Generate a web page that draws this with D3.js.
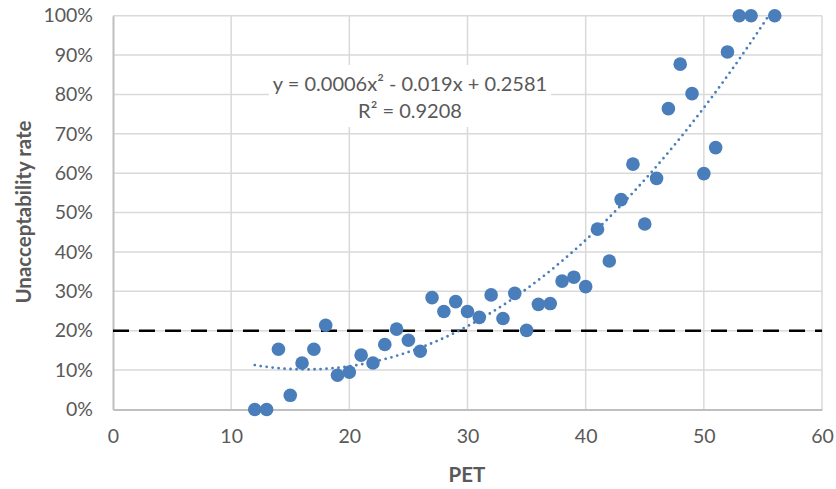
<!DOCTYPE html>
<html>
<head>
<meta charset="utf-8">
<script src="https://cdn.jsdelivr.net/npm/d3@7"></script>
<style>
  body { margin: 0; background: #fff; }
  svg { display: block; font-family: Lato, "Open Sans", sans-serif; }
</style>
</head>
<body>
<div id="chart-container"></div>
<script>
// PET values and unacceptability rate
var pet = [12, 13, 14, 15, 16, 17, 18, 19, 20, 21, 22, 23, 24, 25, 26, 27, 28, 29, 30,
  31, 32, 33, 34, 35, 36, 37, 38, 39, 40, 41, 42, 43, 44, 45, 46, 47, 48, 49, 50,
  51, 52, 53, 54, 56];
var rate = [0.0, 0.0, 0.153, 0.036, 0.118, 0.153, 0.214, 0.087, 0.095, 0.138, 0.118, 0.165,
  0.204, 0.176, 0.148, 0.284, 0.249, 0.274, 0.249, 0.234, 0.291, 0.231, 0.295, 0.201,
  0.267, 0.269, 0.326, 0.336, 0.312, 0.458, 0.377, 0.533, 0.623, 0.471, 0.587, 0.764,
  0.877, 0.802, 0.599, 0.665, 0.908, 1.0, 1.0, 1.0];
var xTicks = [0, 10, 20, 30, 40, 50, 60];
var yTicks = [0, 0.1, 0.2, 0.3, 0.4, 0.5, 0.6, 0.7, 0.8, 0.9, 1.0];
var threshold = 0.2;
var eqLines = ["y = 0.0006x\u00b2 - 0.019x + 0.2581", "R\u00b2 = 0.9208"];

var data = pet.map(function(p, i) { return { x: p, y: rate[i] }; });

var W = 836, H = 489;
var margin = { top: 15.7, right: 14, bottom: 79.5, left: 113 };
var width = W - margin.left - margin.right,
    height = H - margin.top - margin.bottom;

var svg = d3.select("#chart-container").append("svg")
  .attr("width", W).attr("height", H);

var g = svg.append("g")
  .attr("transform", "translate(" + margin.left + "," + margin.top + ")");

var xScale = d3.scaleLinear().domain([0, 60]).range([0, width]);
var yScale = d3.scaleLinear().domain([0, 1]).range([height, 0]);

// gridlines
g.append("g").selectAll("line").data(yTicks.slice(1)).join("line")
  .attr("x1", 0).attr("x2", width)
  .attr("y1", function(d) { return yScale(d); })
  .attr("y2", function(d) { return yScale(d); })
  .attr("stroke", "#d9d9d9").attr("stroke-width", 1.5);
g.append("g").selectAll("line").data(xTicks.slice(1)).join("line")
  .attr("y1", 0).attr("y2", height)
  .attr("x1", function(d) { return xScale(d); })
  .attr("x2", function(d) { return xScale(d); })
  .attr("stroke", "#d9d9d9").attr("stroke-width", 1.5);

// axes
var xAxis = g.append("g")
  .attr("transform", "translate(0," + height + ")")
  .call(d3.axisBottom(xScale).tickValues(xTicks).tickSize(0).tickPadding(20));
var yAxis = g.append("g")
  .call(d3.axisLeft(yScale).tickValues(yTicks).tickFormat(d3.format(".0%")).tickSize(0).tickPadding(20));
[xAxis, yAxis].forEach(function(a) {
  a.select(".domain").attr("stroke", "#bfbfbf").attr("stroke-width", 2);
  a.selectAll("text").attr("fill", "#595959").style("font-size", "19.5px")
    .style("font-family", "Lato, sans-serif");
});

// threshold line
g.append("line")
  .attr("x1", 0).attr("x2", width)
  .attr("y1", yScale(threshold)).attr("y2", yScale(threshold))
  .attr("stroke", "#000").attr("stroke-width", 2.5)
  .attr("stroke-dasharray", "16,10");

// quadratic least-squares trendline fitted from the data
function fitQuad(pts) {
  var s = [0, 0, 0, 0, 0], t = [0, 0, 0];
  pts.forEach(function(p) {
    var xp = 1;
    for (var k = 0; k < 5; k++) { s[k] += xp; if (k < 3) t[k] += xp * p.y; xp *= p.x; }
  });
  var A = [[s[0], s[1], s[2], t[0]], [s[1], s[2], s[3], t[1]], [s[2], s[3], s[4], t[2]]];
  for (var i = 0; i < 3; i++) {
    for (var j = i + 1; j < 3; j++) {
      var f = A[j][i] / A[i][i];
      for (var k = i; k < 4; k++) A[j][k] -= f * A[i][k];
    }
  }
  var c = [0, 0, 0];
  for (var i = 2; i >= 0; i--) {
    var v = A[i][3];
    for (var k = i + 1; k < 3; k++) v -= A[i][k] * c[k];
    c[i] = v / A[i][i];
  }
  return c; // c0 + c1 x + c2 x^2
}
var coef = fitQuad(data);
var xMin = d3.min(pet), xMax = d3.max(pet);
var trend = d3.range(xMin, xMax + 0.001, 0.25).map(function(x) {
  return { x: x, y: coef[0] + coef[1] * x + coef[2] * x * x };
});

svg.append("clipPath").attr("id", "plotclip")
  .append("rect").attr("x", 0).attr("y", -2).attr("width", width).attr("height", height + 4);

var line = d3.line()
  .x(function(d) { return xScale(d.x); })
  .y(function(d) { return yScale(d.y); });

g.append("path").datum(trend)
  .attr("clip-path", "url(#plotclip)")
  .attr("d", line)
  .attr("fill", "none")
  .attr("stroke", "#4a7ebb")
  .attr("stroke-width", 2.8)
  .attr("stroke-linecap", "round")
  .attr("stroke-dasharray", "0,6");

// points
g.append("g").selectAll("circle").data(data).join("circle")
  .attr("cx", function(d) { return xScale(d.x); })
  .attr("cy", function(d) { return yScale(d.y); })
  .attr("r", 6.8)
  .attr("fill", "#4a7ebb");

// equation label (white box hides the gridlines behind it)
g.append("rect")
  .attr("x", 269 - margin.left).attr("y", 65 - margin.top)
  .attr("width", 282).attr("height", 62)
  .attr("fill", "#fff");
g.append("g").selectAll("text").data(eqLines).join("text")
  .attr("x", 410 - margin.left)
  .attr("y", function(d, i) { return 91 - margin.top + i * 27; })
  .attr("text-anchor", "middle")
  .attr("fill", "#595959")
  .style("font-size", "20px")
  .text(function(d) { return d; });

// axis titles
svg.append("text")
  .attr("x", 467).attr("y", 482)
  .attr("text-anchor", "middle")
  .attr("fill", "#595959")
  .style("font-size", "20.5px").style("font-weight", "bold")
  .text("PET");
svg.append("text")
  .attr("transform", "translate(31,212) rotate(-90)")
  .attr("text-anchor", "middle")
  .attr("fill", "#595959")
  .style("font-size", "20.5px").style("font-weight", "bold")
  .text("Unacceptability rate");
</script>
</body>
</html>
